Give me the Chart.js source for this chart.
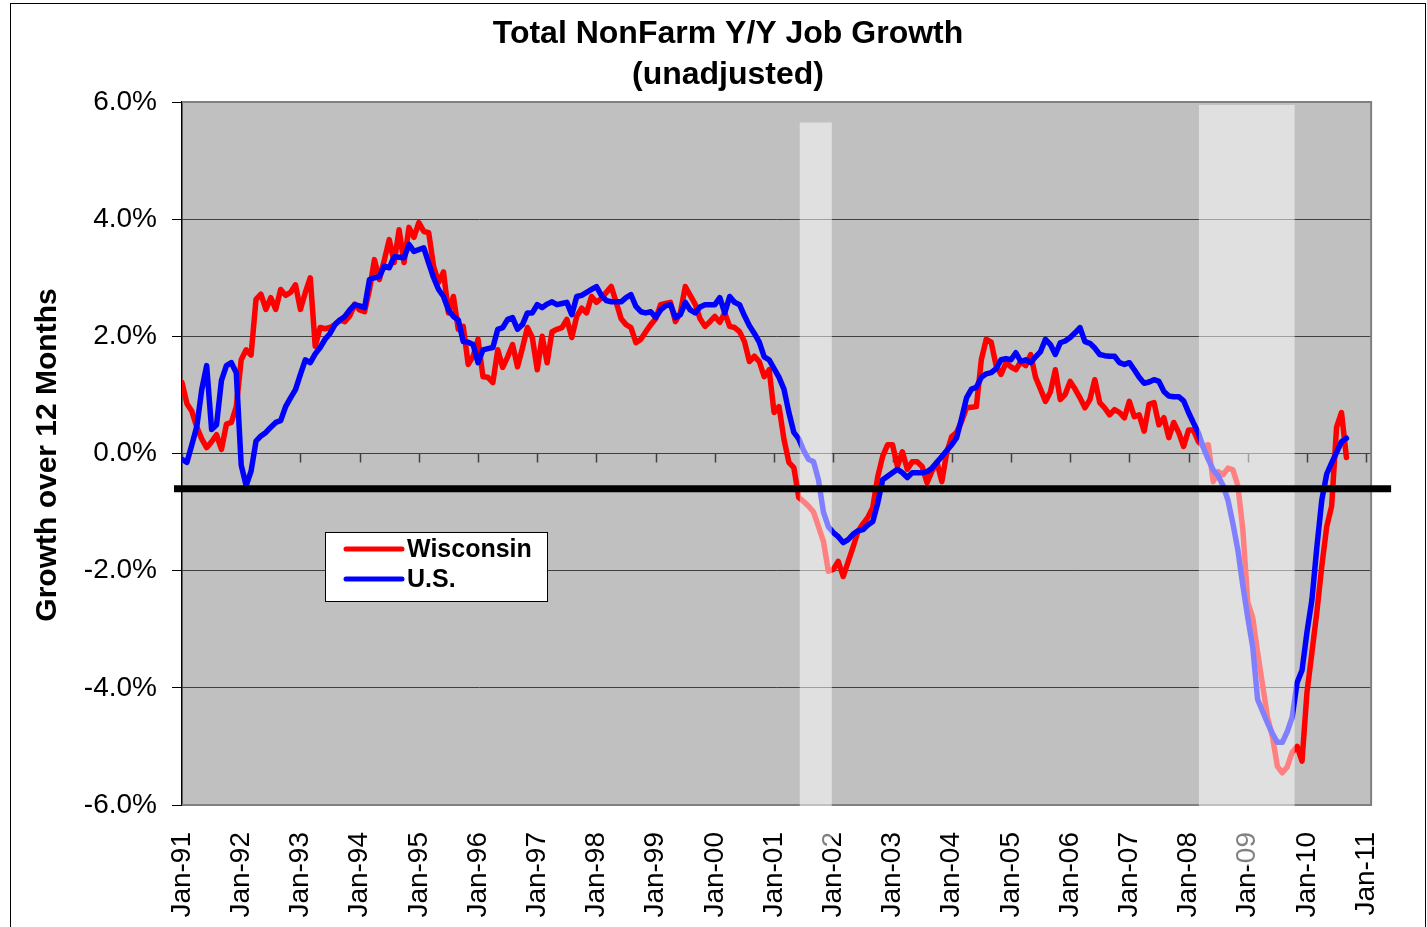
<!DOCTYPE html>
<html>
<head>
<meta charset="utf-8">
<title>Total NonFarm Y/Y Job Growth</title>
<script src="https://cdn.jsdelivr.net/npm/chart.js@4/dist/chart.umd.min.js"></script>
<style>
  html, body { margin: 0; padding: 0; background: #fff; }
  canvas { display: block; }
</style>
</head>
<body>
<canvas id="jobsChart" width="1427" height="927"></canvas>
<script>
// ** Data (monthly, Jan-91 .. Sep-10, percent growth over 12 months) **
const yearTicks = ["Jan-91", "Jan-92", "Jan-93", "Jan-94", "Jan-95", "Jan-96", "Jan-97",
    "Jan-98", "Jan-99", "Jan-00", "Jan-01", "Jan-02", "Jan-03", "Jan-04", "Jan-05",
    "Jan-06", "Jan-07", "Jan-08", "Jan-09", "Jan-10", "Jan-11"];

const wisconsin = [
    1.21, 0.85, 0.72, 0.45, 0.25, 0.10, 0.20, 0.32, 0.07, 0.50,
    0.53, 0.80, 1.60, 1.77, 1.68, 2.63, 2.72, 2.46, 2.66, 2.46,
    2.80, 2.70, 2.75, 2.88, 2.46, 2.75, 3.00, 1.83, 2.15, 2.13,
    2.15, 2.20, 2.28, 2.25, 2.35, 2.55, 2.45, 2.42, 2.80, 3.31,
    2.97, 3.30, 3.65, 3.26, 3.82, 3.26, 3.86, 3.69, 3.94, 3.79,
    3.77, 3.19, 2.92, 3.10, 2.40, 2.68, 2.12, 2.17, 1.52, 1.66,
    1.95, 1.31, 1.30, 1.21, 1.77, 1.47, 1.65, 1.86, 1.48, 1.80,
    2.15, 1.98, 1.43, 2.00, 1.55, 2.08, 2.12, 2.15, 2.29, 1.98,
    2.34, 2.48, 2.40, 2.68, 2.58, 2.65, 2.75, 2.85, 2.58, 2.30,
    2.20, 2.15, 1.89, 1.95, 2.08, 2.20, 2.30, 2.54, 2.56, 2.58,
    2.25, 2.40, 2.85, 2.70, 2.55, 2.30, 2.17, 2.25,
    2.34, 2.24, 2.40, 2.17, 2.15, 2.08, 1.91, 1.57, 1.66, 1.57,
    1.31, 1.43, 0.70, 0.80, 0.24, -0.15, -0.24, -0.75, -0.82, -0.90,
    -1.00, -1.25, -1.50, -2.01, -1.98, -1.84, -2.10, -1.85, -1.60, -1.33,
    -1.20, -1.09, -0.92, -0.40, -0.05, 0.15, 0.15, -0.22, 0.03, -0.27,
    -0.14, -0.14, -0.22, -0.50, -0.30, -0.15, -0.48, 0.02, 0.29, 0.36,
    0.55, 0.78, 0.79, 0.80, 1.60, 1.95, 1.90, 1.50, 1.35, 1.55,
    1.48, 1.43, 1.57, 1.50, 1.69, 1.30, 1.10, 0.89, 1.05, 1.43,
    0.92, 1.01, 1.23, 1.10, 0.95, 0.78, 0.92, 1.26, 0.87, 0.78,
    0.66, 0.75, 0.70, 0.61, 0.89, 0.63, 0.66, 0.38, 0.84, 0.87,
    0.49, 0.61, 0.27, 0.53, 0.36, 0.12, 0.40,
    0.40, 0.20, 0.12, 0.15, -0.48, -0.31, -0.36, -0.25, -0.28, -0.55,
    -1.30, -2.54, -2.80, -3.40, -3.95, -4.50, -4.83, -5.34, -5.45, -5.35,
    -5.10, -5.00, -5.25, -4.08, -3.40, -2.71, -1.93, -1.25, -0.90, 0.45,
    0.70, -0.07
];

const unitedStates = [
    -0.10, -0.15, 0.15, 0.46, 1.09, 1.50, 0.41, 0.49, 1.25, 1.50,
    1.55, 1.38, -0.20, -0.55, -0.30, 0.21, 0.30, 0.36, 0.45, 0.53,
    0.56, 0.80, 0.95, 1.09, 1.35, 1.60, 1.55, 1.70, 1.81, 1.95,
    2.05, 2.20, 2.28, 2.34, 2.45, 2.54, 2.52, 2.49, 2.97, 3.00,
    3.02, 3.20, 3.17, 3.36, 3.35, 3.34, 3.57, 3.45, 3.48, 3.51,
    3.25, 3.00, 2.80, 2.68, 2.45, 2.34, 2.28, 1.91, 1.90, 1.86,
    1.55, 1.77, 1.79, 1.81, 2.12, 2.15, 2.29, 2.32, 2.12, 2.20,
    2.40, 2.40, 2.54, 2.49, 2.55, 2.59, 2.54, 2.56, 2.58, 2.37,
    2.68, 2.70, 2.75, 2.80, 2.85, 2.70, 2.61, 2.59, 2.59, 2.59,
    2.66, 2.71, 2.51, 2.42, 2.40, 2.42, 2.32, 2.45, 2.52, 2.54,
    2.32, 2.37, 2.58, 2.45, 2.40, 2.50, 2.54, 2.54,
    2.54, 2.66, 2.40, 2.68, 2.58, 2.54, 2.35, 2.18, 2.05, 1.90,
    1.65, 1.60, 1.45, 1.30, 1.10, 0.70, 0.36, 0.25, 0.05, -0.10,
    -0.14, -0.45, -1.00, -1.25, -1.35, -1.42, -1.52, -1.47, -1.38, -1.32,
    -1.30, -1.22, -1.16, -0.85, -0.45, -0.39, -0.33, -0.27, -0.33, -0.41,
    -0.33, -0.33, -0.33, -0.31, -0.25, -0.15, -0.05, 0.05, 0.15, 0.27,
    0.60, 0.95, 1.10, 1.13, 1.30, 1.36, 1.38, 1.45, 1.60, 1.62,
    1.60, 1.72, 1.57, 1.60, 1.55, 1.65, 1.74, 1.95, 1.86, 1.69,
    1.89, 1.92, 1.98, 2.06, 2.15, 1.91, 1.88, 1.80, 1.69, 1.67,
    1.66, 1.66, 1.55, 1.52, 1.55, 1.43, 1.30, 1.20, 1.22, 1.26,
    1.23, 1.06, 0.98, 0.97, 0.97, 0.90, 0.70,
    0.52, 0.35, 0.10, -0.10, -0.28, -0.38, -0.55, -0.80, -1.20, -1.65,
    -2.25, -2.80, -3.30, -4.20, -4.40, -4.60, -4.78, -4.93, -4.93, -4.75,
    -4.50, -3.91, -3.70, -3.05, -2.50, -1.60, -0.80, -0.35, -0.16, 0.02,
    0.20, 0.26
];

// recession bands in months from Jan-91, and their top value (%)
const recessionStart = [125.2, 206.1];
const recessionEnd = [131.7, 225.5];
const recessionTop = [5.65, 5.95];

const thresholdLevel = -0.6;

const FONT = '"Liberation Sans", Arial, sans-serif';

// ** Extra drawing: plot background, recession bands, threshold, legend, titles **
const decorations = {
    id: "decorations",
    beforeDraw(chart) {
        const { ctx, chartArea: a } = chart;
        ctx.save();
        ctx.fillStyle = "#fff";
        ctx.fillRect(0, 0, chart.width, chart.height);
        ctx.strokeStyle = "#000";
        ctx.lineWidth = 1;
        ctx.strokeRect(10.5, 3.5, chart.width - 12, chart.height + 10);
        ctx.fillStyle = "#c0c0c0";
        ctx.fillRect(a.left, a.top, a.right - a.left, a.bottom - a.top);
        ctx.restore();
    },
    beforeDatasetsDraw(chart) {
        const { ctx, chartArea: a, scales } = chart;
        ctx.save();
        ctx.strokeStyle = "#808080";
        ctx.lineWidth = 2;
        ctx.beginPath();
        ctx.moveTo(a.left, a.top);
        ctx.lineTo(a.right, a.top);
        ctx.lineTo(a.right, a.bottom);
        ctx.lineTo(a.left, a.bottom);
        ctx.stroke();
        // category tick marks hanging from the 0% line
        const y0 = scales.y.getPixelForValue(0);
        ctx.strokeStyle = "#404040";
        ctx.lineWidth = 1.5;
        ctx.beginPath();
        yearTicks.forEach((_, i) => {
            const x = Math.round(scales.x.getPixelForValue(i * 12)) + 0.5;
            ctx.moveTo(x, y0);
            ctx.lineTo(x, y0 + 9);
        });
        ctx.stroke();
        ctx.restore();
    },
    afterDatasetsDraw(chart) {
        const { ctx, chartArea: a, scales } = chart;
        ctx.save();
        // recession shading (washes over lines and labels)
        const drop = [43, 61];
        ctx.fillStyle = "rgba(255,255,255,0.5)";
        recessionStart.forEach((s, i) => {
            const x1 = scales.x.getPixelForValue(s);
            const x2 = scales.x.getPixelForValue(recessionEnd[i]);
            const yt = scales.y.getPixelForValue(recessionTop[i]);
            ctx.fillRect(x1, yt, x2 - x1, a.bottom + drop[i] - yt);
        });

        // thick black threshold line
        const yl = scales.y.getPixelForValue(thresholdLevel);
        ctx.strokeStyle = "#000";
        ctx.lineWidth = 7;
        ctx.beginPath();
        ctx.moveTo(a.left - 8, yl);
        ctx.lineTo(a.right + 20, yl);
        ctx.stroke();

        // legend box
        const lx = 325, ly = 532;
        ctx.fillStyle = "#fff";
        ctx.fillRect(lx, ly, 222, 69);
        ctx.strokeStyle = "#000";
        ctx.lineWidth = 1;
        ctx.strokeRect(lx + 0.5, ly + 0.5, 222, 69);
        chart.data.datasets.forEach((ds, i) => {
            const y = ly + 17 + i * 30;
            ctx.strokeStyle = ds.borderColor;
            ctx.lineWidth = 5;
            ctx.lineCap = "round";
            ctx.beginPath();
            ctx.moveTo(lx + 21, y);
            ctx.lineTo(lx + 77, y);
            ctx.stroke();
            ctx.fillStyle = "#000";
            ctx.font = "bold 25px " + FONT;
            ctx.textAlign = "left";
            ctx.textBaseline = "middle";
            ctx.fillText(ds.label, lx + 82, y + 1);
        });

        // titles
        ctx.fillStyle = "#000";
        ctx.textAlign = "center";
        ctx.textBaseline = "middle";
        ctx.font = "bold 32px " + FONT;
        ctx.fillText("Total NonFarm Y/Y Job Growth", 728, 34);
        ctx.fillText("(unadjusted)", 728, 75);

        ctx.translate(48, 455);
        ctx.rotate(-Math.PI / 2);
        ctx.font = "bold 30px " + FONT;
        ctx.fillText("Growth over 12 Months", 0, 0);
        ctx.restore();
    }
};

function renderJobsChart() {
    const ctx = document.getElementById("jobsChart").getContext("2d");
    new Chart(ctx, {
        type: "line",
        data: {
            datasets: [
                {
                    label: "Wisconsin",
                    data: wisconsin.map((v, i) => ({ x: i, y: v })),
                    borderColor: "#ff0000",
                    borderWidth: 5.5,
                    pointRadius: 0,
                    tension: 0,
                    borderJoinStyle: "round",
                    borderCapStyle: "round",
                    order: 2
                },
                {
                    label: "U.S.",
                    data: unitedStates.map((v, i) => ({ x: i, y: v })),
                    borderColor: "#0000ff",
                    borderWidth: 5.5,
                    pointRadius: 0,
                    tension: 0,
                    borderJoinStyle: "round",
                    borderCapStyle: "round",
                    order: 1
                }
            ]
        },
        options: {
            responsive: false,
            devicePixelRatio: 1,
            animation: false,
            events: [],
            layout: { padding: { left: 10, top: 102, right: 53, bottom: 0 } },
            plugins: { legend: { display: false }, tooltip: { enabled: false } },
            scales: {
                x: {
                    type: "linear",
                    bounds: "data",
                    min: 0,
                    max: 241,
                    afterBuildTicks: s => { s.ticks = yearTicks.map((_, i) => ({ value: i * 12 })); },
                    afterFit: s => { s.height = 122; },
                    grid: { display: false, drawTicks: false },
                    border: { display: false },
                    ticks: {
                        autoSkip: false,
                        minRotation: 90,
                        maxRotation: 90,
                        padding: 27,
                        color: "#000",
                        font: { family: FONT, size: 28 },
                        callback: (v, i) => yearTicks[i]
                    }
                },
                y: {
                    min: -6,
                    max: 6,
                    afterFit: s => { s.width = 172; },
                    grid: { color: "#404040", lineWidth: 1, tickLength: 10, tickColor: "#000" },
                    border: { color: "#000", width: 1.5 },
                    ticks: {
                        stepSize: 2,
                        padding: 15,
                        color: "#000",
                        font: { family: FONT, size: 28 },
                        callback: v => v.toFixed(1) + "%"
                    }
                }
            }
        },
        plugins: [decorations]
    });
}

renderJobsChart();
</script>
</body>
</html>
